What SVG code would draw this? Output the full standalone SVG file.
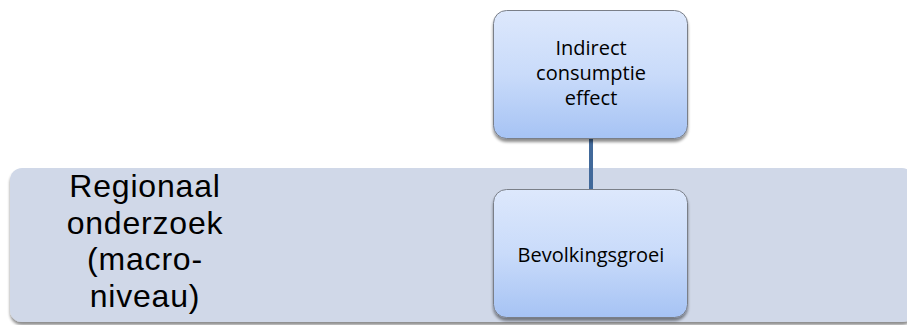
<svg xmlns="http://www.w3.org/2000/svg" width="907" height="325" viewBox="0 0 907 325">
<defs>
<linearGradient id="nodeFill" x1="0" y1="0" x2="0" y2="1">
<stop offset="0" stop-color="#dde8fc"/>
<stop offset="0.5" stop-color="#c9dbfa"/>
<stop offset="1" stop-color="#a6c3f4"/>
</linearGradient>
<filter id="shadow" x="-10%" y="-10%" width="120%" height="125%">
<feGaussianBlur in="SourceAlpha" stdDeviation="1.5"/>
<feOffset dx="0" dy="3" result="b"/>
<feComponentTransfer><feFuncA type="linear" slope="0.45"/></feComponentTransfer>
<feMerge><feMergeNode/><feMergeNode in="SourceGraphic"/></feMerge>
</filter>
</defs>
<style>
.node{fill:url(#nodeFill);stroke:#7a7f88;stroke-width:1;filter:url(#shadow)}
.nt{font-family:"Open Sans","Liberation Sans",sans-serif;font-size:20px;fill:#000;text-anchor:middle}
.bt{font-family:"Liberation Sans",sans-serif;font-size:32px;letter-spacing:0.8px;fill:#000;text-anchor:middle}
.conn{stroke:#41699a;stroke-width:4;fill:none}
</style>
<g id="band">
<rect x="10" y="168" width="904" height="154" rx="12" fill="#d0d8e8" filter="url(#shadow)"/>
<text class="bt" x="145" y="197">Regionaal</text>
<text class="bt" x="145" y="234">onderzoek</text>
<text class="bt" x="145" y="270">(macro-</text>
<text class="bt" x="145" y="307">niveau)</text>
</g>
<g id="connectors">
<line class="conn" x1="591" y1="138" x2="591" y2="190"/>
</g>
<g id="node-indirect">
<rect class="node" x="493.5" y="10.5" width="194" height="128" rx="13"/>
<text class="nt" x="591" y="55">Indirect</text>
<text class="nt" x="591" y="80">consumptie</text>
<text class="nt" x="591" y="105">effect</text>
</g>
<g id="node-bevolking">
<rect class="node" x="493.5" y="189.5" width="194" height="128" rx="13"/>
<text class="nt" x="591" y="262">Bevolkingsgroei</text>
</g>
</svg>
